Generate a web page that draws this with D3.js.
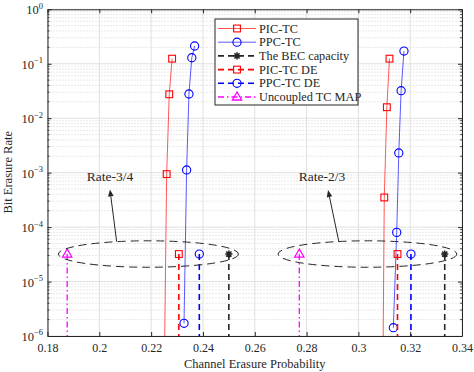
<!DOCTYPE html>
<html>
<head>
<meta charset="utf-8">
<script src="https://cdn.jsdelivr.net/npm/d3@7"></script>
<style>
  body { margin: 0; background: #fff; }
  text { font-family: "Liberation Serif", "DejaVu Serif", serif; fill: #262626; }
</style>
</head>
<body>
<div class="chart"></div>
<script>
// axis ticks
var xTicks = [0.18, 0.2, 0.22, 0.24, 0.26, 0.28, 0.3, 0.32, 0.34];
var xTickLabels = ['0.18', '0.2', '0.22', '0.24', '0.26', '0.28', '0.3', '0.32', '0.34'];
var yTickExps = [0, -1, -2, -3, -4, -5, -6];

// simulated curves (rate-3/4 and rate-2/3)
var picTC34X = [0.2281, 0.2270, 0.2260, 0.2250];
var picTC34Y = [0.124, 0.0275, 9.4e-4, 1e-7];
var ppcTC34X = [0.2368, 0.2357, 0.2346, 0.2337, 0.2327];
var ppcTC34Y = [0.212, 0.129, 0.0278, 1.12e-3, 1.71e-6];
var picTC23X = [0.3120, 0.3110, 0.3100, 0.3094];
var picTC23Y = [0.124, 0.0159, 3.5e-4, 1e-7];
var ppcTC23X = [0.3176, 0.3165, 0.3156, 0.3148, 0.3135];
var ppcTC23Y = [0.171, 0.032, 2.3e-3, 8.0e-5, 1.42e-6];

// thresholds (rate-3/4, rate-2/3)
var deLevel = 3.2e-5;
var becCapacity = [0.25, 1 / 3];
var picDE = [0.2307, 0.3151];
var ppcDE = [0.2386, 0.3203];
var uncoupledMAP = [0.1876, 0.2772];

var rateLabels = ['Rate-3/4', 'Rate-2/3'];

var svgWidth = 474;
var svgHeight = 372;
var margin = { top: 9.3, right: 12, bottom: 36, left: 47.5 };
var width = svgWidth - margin.left - margin.right;
var height = svgHeight - margin.top - margin.bottom;

var svg = d3.select('.chart')
  .append('svg')
  .attr('width', svgWidth)
  .attr('height', svgHeight);

var x = d3.scaleLinear().domain([0.18, 0.34]).range([0, width]);
var y = d3.scaleLog().domain([1e-6, 1]).range([height, 0]);

var chartGroup = svg.append('g')
  .attr('transform', `translate(${margin.left}, ${margin.top})`);

svg.append('defs').append('clipPath').attr('id', 'clip')
  .append('rect').attr('width', width).attr('height', height);

// grid
var minorTicks = [];
yTickExps.slice(1).forEach(function(e) {
  for (var k = 2; k <= 9; k++) minorTicks.push(k * Math.pow(10, e));
});
chartGroup.selectAll('.yminor').data(minorTicks).enter().append('line')
  .attr('x1', 0).attr('x2', width)
  .attr('y1', d => y(d)).attr('y2', d => y(d))
  .attr('stroke', '#c8c8c8').attr('stroke-width', 0.8)
  .attr('stroke-dasharray', '1,2');
chartGroup.selectAll('.xgrid').data(xTicks).enter().append('line')
  .attr('x1', d => x(d)).attr('x2', d => x(d))
  .attr('y1', 0).attr('y2', height)
  .attr('stroke', '#e0e0e0').attr('stroke-width', 1);
chartGroup.selectAll('.ygrid').data(yTickExps).enter().append('line')
  .attr('x1', 0).attr('x2', width)
  .attr('y1', d => y(Math.pow(10, d))).attr('y2', d => y(Math.pow(10, d)))
  .attr('stroke', '#e0e0e0').attr('stroke-width', 1);

var plot = chartGroup.append('g').attr('clip-path', 'url(#clip)');

// marker helpers
function drawMarker(g, type, cx, cy, color) {
  if (type === 'square') {
    g.append('rect').attr('x', cx - 3.4).attr('y', cy - 3.4)
      .attr('width', 6.8).attr('height', 6.8)
      .attr('fill', 'none').attr('stroke', color).attr('stroke-width', 1.1);
  } else if (type === 'circle') {
    g.append('circle').attr('cx', cx).attr('cy', cy).attr('r', 4.1)
      .attr('fill', 'none').attr('stroke', color).attr('stroke-width', 1.1);
  } else if (type === 'triangle') {
    g.append('path')
      .attr('d', `M${cx},${cy - 5}L${cx + 4.6},${cy + 3}L${cx - 4.6},${cy + 3}Z`)
      .attr('fill', 'none').attr('stroke', color).attr('stroke-width', 1.3);
  } else if (type === 'star') {
    var r = 3.6, d = r * 0.72;
    g.append('path')
      .attr('d', `M${cx},${cy - r}V${cy + r}M${cx - r},${cy}H${cx + r}` +
        `M${cx - d},${cy - d}L${cx + d},${cy + d}M${cx - d},${cy + d}L${cx + d},${cy - d}`)
      .attr('stroke', color).attr('stroke-width', 1.6);
  }
}

var line = d3.line().x(d => x(d[0])).y(d => y(d[1]));

function drawCurve(xs, ys, color, marker) {
  var pts = d3.zip(xs, ys);
  plot.append('path').datum(pts)
    .attr('d', line)
    .attr('fill', 'none')
    .attr('stroke', color).attr('stroke-opacity', 0.65).attr('stroke-width', 1);
  pts.forEach(function(p) { drawMarker(plot, marker, x(p[0]), y(p[1]), color); });
}

drawCurve(picTC34X, picTC34Y, '#ff0000', 'square');
drawCurve(picTC23X, picTC23Y, '#ff0000', 'square');
drawCurve(ppcTC34X, ppcTC34Y, '#0000ff', 'circle');
drawCurve(ppcTC23X, ppcTC23Y, '#0000ff', 'circle');

// threshold drop lines
function drawThreshold(vals, color, dash, marker, widthPx) {
  vals.forEach(function(v) {
    plot.append('line')
      .attr('x1', x(v)).attr('x2', x(v))
      .attr('y1', y(deLevel)).attr('y2', y(1e-6))
      .attr('stroke', color).attr('stroke-width', widthPx)
      .attr('stroke-dasharray', dash);
    drawMarker(plot, marker, x(v), y(deLevel), color);
  });
}
drawThreshold(becCapacity, '#262626', '6,4', 'star', 1.6);
drawThreshold(picDE, '#ff0000', '6,4', 'square', 1.6);
drawThreshold(ppcDE, '#0000ff', '6,4', 'circle', 1.6);
drawThreshold(uncoupledMAP, '#ff00ff', '6,3,1.5,3', 'triangle', 1.3);

// axes box and ticks
var bottomAxis = d3.axisBottom(x).tickValues(xTicks)
  .tickFormat((d, i) => xTickLabels[i]).tickSizeInner(-4).tickSizeOuter(0).tickPadding(7);
var topAxis = d3.axisTop(x).tickValues(xTicks).tickFormat('').tickSizeInner(-4).tickSizeOuter(0);
var leftAxis = d3.axisLeft(y).tickValues(yTickExps.map(e => Math.pow(10, e)))
  .tickFormat('').tickSizeInner(-4).tickSizeOuter(0);
var rightAxis = d3.axisRight(y).tickValues(yTickExps.map(e => Math.pow(10, e)))
  .tickFormat('').tickSizeInner(-4).tickSizeOuter(0);

var gb = chartGroup.append('g').attr('transform', `translate(0, ${height})`).call(bottomAxis);
var gt = chartGroup.append('g').call(topAxis);
var gl = chartGroup.append('g').call(leftAxis);
var gr = chartGroup.append('g').attr('transform', `translate(${width}, 0)`).call(rightAxis);
[gb, gt, gl, gr].forEach(function(g) {
  g.select('.domain').attr('stroke', '#262626');
  g.selectAll('.tick line').attr('stroke', '#262626');
});
gb.selectAll('.tick text').attr('font-size', 12)
  .attr('font-family', '"Liberation Serif", serif').attr('fill', '#262626');

// minor y ticks
[0, width].forEach(function(edge) {
  chartGroup.selectAll(null).data(minorTicks).enter().append('line')
    .attr('x1', edge).attr('x2', edge === 0 ? 2 : width - 2)
    .attr('y1', d => y(d)).attr('y2', d => y(d))
    .attr('stroke', '#262626').attr('stroke-width', 0.8);
});

// y tick labels 10^n
var ylab = chartGroup.selectAll('.ylab').data(yTickExps).enter().append('text')
  .attr('x', -4.5).attr('y', d => y(Math.pow(10, d)) + 5)
  .attr('text-anchor', 'end').attr('font-size', 12.5);
ylab.append('tspan').text('10');
ylab.append('tspan').attr('dy', -5.5).attr('font-size', 8.5).text(d => d === 0 ? '0' : '\u2212' + (-d));

// axis labels
chartGroup.append('text')
  .attr('x', width / 2).attr('y', height + 32)
  .attr('text-anchor', 'middle').attr('font-size', 12.5)
  .text('Channel Erasure Probability');
chartGroup.append('text')
  .attr('transform', 'rotate(-90)')
  .attr('x', -163).attr('y', -36)
  .attr('text-anchor', 'middle').attr('font-size', 12.5)
  .text('Bit Erasure Rate');

// rate annotations: dashed ellipse, arrow, label
var ellipseX = [[0.1842, 0.2537], [0.2690, 0.3380]];
var ellipseY = [1.83e-5, 5.6e-5];
var arrowTail = [[0.2067, 5.4e-5], [0.2925, 5.3e-5]];
var arrowHead = [[0.2041, 4.9e-4], [0.2883, 4.8e-4]];
var labelPos = [[0.2041, 8.4e-4], [0.2860, 8.4e-4]];

rateLabels.forEach(function(lbl, i) {
  var cx = (x(ellipseX[i][0]) + x(ellipseX[i][1])) / 2;
  var rx = (x(ellipseX[i][1]) - x(ellipseX[i][0])) / 2;
  var cy = (y(ellipseY[0]) + y(ellipseY[1])) / 2;
  var ry = (y(ellipseY[0]) - y(ellipseY[1])) / 2;
  chartGroup.append('ellipse')
    .attr('cx', cx).attr('cy', cy).attr('rx', rx).attr('ry', ry)
    .attr('fill', 'none').attr('stroke', '#262626').attr('stroke-width', 1)
    .attr('stroke-dasharray', '8,5');

  var x1 = x(arrowTail[i][0]), y1 = y(arrowTail[i][1]);
  var x2 = x(arrowHead[i][0]), y2 = y(arrowHead[i][1]);
  var ang = Math.atan2(y2 - y1, x2 - x1);
  var hl = 7, hw = 2.8;
  var bx = x2 - hl * Math.cos(ang), by = y2 - hl * Math.sin(ang);
  chartGroup.append('line')
    .attr('x1', x1).attr('y1', y1).attr('x2', bx).attr('y2', by)
    .attr('stroke', '#262626').attr('stroke-width', 1);
  chartGroup.append('path')
    .attr('d', `M${x2},${y2}L${bx + hw * Math.sin(ang)},${by - hw * Math.cos(ang)}` +
      `L${bx - hw * Math.sin(ang)},${by + hw * Math.cos(ang)}Z`)
    .attr('fill', '#262626');

  chartGroup.append('text')
    .attr('x', x(labelPos[i][0])).attr('y', y(labelPos[i][1]) + 4.5)
    .attr('text-anchor', 'middle').attr('font-size', 13.5)
    .text(lbl);
});

// legend
var legendItems = [
  { name: 'PIC-TC', color: '#ff0000', dash: null, marker: 'square', op: 0.65, w: 1 },
  { name: 'PPC-TC', color: '#0000ff', dash: null, marker: 'circle', op: 0.65, w: 1 },
  { name: 'The BEC capacity', color: '#262626', dash: '6,4', marker: 'star', op: 1, w: 1.6 },
  { name: 'PIC-TC DE', color: '#ff0000', dash: '6,4', marker: 'square', op: 1, w: 1.6 },
  { name: 'PPC-TC DE', color: '#0000ff', dash: '6,4', marker: 'circle', op: 1, w: 1.6 },
  { name: 'Uncoupled TC MAP', color: '#ff00ff', dash: '6,3,1.5,3', marker: 'triangle', op: 1, w: 1.3 }
];
var legend = svg.append('g').attr('transform', 'translate(215, 19)');
legend.append('rect')
  .attr('width', 143).attr('height', 86)
  .attr('fill', '#fff').attr('stroke', '#262626').attr('stroke-width', 1);
legendItems.forEach(function(it, i) {
  var ly = 9.5 + i * 13.7;
  legend.append('line')
    .attr('x1', 3).attr('x2', 41).attr('y1', ly).attr('y2', ly)
    .attr('stroke', it.color).attr('stroke-opacity', it.op)
    .attr('stroke-width', it.w).attr('stroke-dasharray', it.dash);
  drawMarker(legend, it.marker, 22, ly, it.color);
  legend.append('text')
    .attr('x', 44).attr('y', ly + 4)
    .attr('font-size', 12.3)
    .text(it.name);
});
</script>
</body>
</html>
